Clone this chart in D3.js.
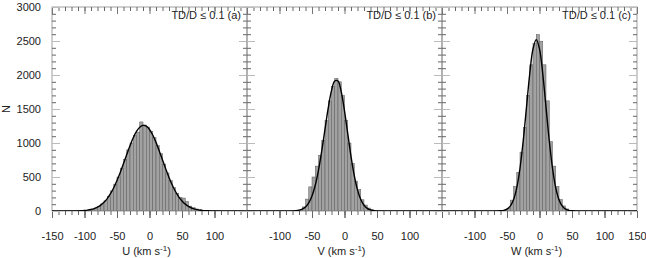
<!DOCTYPE html>
<html>
<head>
<meta charset="utf-8">
<script src="https://cdn.jsdelivr.net/npm/d3@7"></script>
<style>
  body { margin: 0; background: #fff; }
  svg { display: block; }
  text { font-family: "Liberation Sans", Arial, sans-serif; fill: #222; }
</style>
</head>
<body>
<svg id="chart" width="646" height="258"></svg>
<script>
// velocity grid (km/s), bin edges every 5
var edges = [-150,-145,-140,-135,-130,-125,-120,-115,-110,-105,-100,-95,-90,-85,-80,-75,-70,-65,-60,-55,
  -50,-45,-40,-35,-30,-25,-20,-15,-10,-5,0,5,10,15,20,25,30,35,40,45,
  50,55,60,65,70,75,80,85,90,95,100,105,110,115,120,125,130,135,140,145,150];

// histogram counts per 5 km/s bin (left edge -150 .. 145)
var histU = [0,0,0,0,1,1,2,3,4,6,10,17,28,45,70,105,150,216,296,395,
  500,630,760,900,1000,1110,1160,1310,1265,1235,1170,1080,960,845,690,560,445,345,260,200,
  190,140,72,48,30,18,11,6,4,2,1,1,0,0,0,0,0,0,0,0];
var histV = [0,0,0,0,0,0,0,0,0,0,0,0,0,1,2,5,14,60,175,355,
  500,660,820,1040,1330,1620,1830,1950,1900,1700,1330,1000,700,440,316,165,88,44,18,7,
  2,1,0,0,0,0,0,0,0,0,0,0,0,0,0,0,0,0,0,0];
var histW = [0,0,0,0,0,0,0,0,0,0,0,0,0,0,0,0,1,2,3,10,
  40,160,360,570,866,1230,1700,2150,2460,2594,2497,2150,1620,1020,660,360,170,75,30,10,
  4,1,0,0,0,0,0,0,0,0,0,0,0,0,0,0,0,0,0,0];

// fitted curves, read at each edge value
var fitU = [0,0,0,0,0,0,1,1,2,4,8,13,22,36,57,86,128,183,254,342,
  448,567,697,831,960,1076,1170,1232,1259,1248,1199,1117,1009,884,751,619,494,383,287,209,
  148,101,67,43,27,16,10,5,3,2,1,0,0,0,0,0,0,0,0,0,0];
var fitV = [0,0,0,0,0,0,0,0,0,0,0,0,0,0,2,5,12,27,59,119,
  220,378,601,884,1203,1517,1770,1912,1912,1752,1473,1137,804,522,311,169,85,39,16,6,
  2,0,0,0,0,0,0,0,0,0,0,0,0,0,0,0,0,0,0,0,0];
var fitW = [0,0,0,0,0,0,0,0,0,0,0,0,0,0,0,0,0,0,3,10,
  28,72,166,341,629,1036,1528,2018,2384,2520,2384,2018,1528,1036,629,341,166,72,28,10,
  3,0,0,0,0,0,0,0,0,0,0,0,0,0,0,0,0,0,0,0,0];

var yTicks = [0,500,1000,1500,2000,2500,3000];
var panelNames = ["U", "V", "W"];
var panelTags = ["(a)", "(b)", "(c)"];
var xTickSets = [[-150,-100,-50,0,50,100], [-100,-50,0,50,100], [-100,-50,0,50,100,150]];

var hists = [histU, histV, histW];
var fits = [fitU, fitV, fitW];

var svg = d3.select("#chart");
var left0 = 52, pw = 195, plotTop = 7, plotBottom = 211;

var y = d3.scaleLinear().domain([0, 3000]).range([plotBottom, plotTop]);

var minorX = d3.range(-150, 151, 10), majorX = d3.range(-150, 151, 50);
var minorY = d3.range(0, 3001, 100), majorY = d3.range(0, 3001, 500);
var axisCol = "#888", majorCol = "#bbb";

panelNames.forEach(function(name, i) {
  var x0 = left0 + i * pw;
  var x = d3.scaleLinear().domain([-150, 150]).range([x0, x0 + pw]);
  var g = svg.append("g");

  g.append("clipPath").attr("id", "clip" + i)
    .append("rect").attr("x", x0).attr("y", plotTop).attr("width", pw).attr("height", plotBottom - plotTop);

  // bars
  var bins = hists[i].map(function(v, j) { return {a: edges[j], b: edges[j + 1], v: v}; });
  g.append("g").attr("clip-path", "url(#clip" + i + ")")
    .selectAll("rect").data(bins.filter(function(d) { return d.v > 0; }))
    .enter().append("rect")
      .attr("x", function(d) { return x(d.a); })
      .attr("y", function(d) { return y(d.v); })
      .attr("width", function(d) { return x(d.b) - x(d.a); })
      .attr("height", function(d) { return y(0) - y(d.v); })
      .attr("fill", "#a2a2a2")
      .attr("stroke", "#5a5a5a")
      .attr("stroke-width", 0.5);

  // frame lines
  g.append("rect").attr("x", x0).attr("y", plotTop).attr("width", pw).attr("height", plotBottom - plotTop)
    .attr("fill", "none").attr("stroke", axisCol).attr("stroke-width", 0.8);

  // bottom ticks (outside)
  g.append("g").attr("transform", "translate(0," + plotBottom + ")")
    .call(d3.axisBottom(x).tickValues(minorX).tickSize(4).tickFormat(""))
    .call(function(a) { a.select(".domain").remove(); a.selectAll("line").attr("stroke", "#666"); });
  g.append("g").attr("transform", "translate(0," + plotBottom + ")")
    .call(d3.axisBottom(x).tickValues(xTickSets[i]).tickSize(7).tickPadding(14)
      .tickFormat(function(d) { return d; }))
    .call(function(a) {
      a.select(".domain").remove();
      a.selectAll("line").attr("stroke", "#666");
      a.selectAll("text").style("font-size", "11px").attr("fill", "#222")
        .style("font-family", "'Liberation Sans', Arial, sans-serif");
    });
  g.append("g").attr("transform", "translate(0," + plotBottom + ")")
    .call(d3.axisBottom(x).tickValues(majorX).tickSize(7).tickFormat(""))
    .call(function(a) { a.select(".domain").remove(); a.selectAll("line").attr("stroke", "#666"); });

  // top ticks (inside)
  g.append("g").attr("transform", "translate(0," + plotTop + ")")
    .call(d3.axisBottom(x).tickValues(minorX).tickSize(4).tickFormat(""))
    .call(function(a) { a.select(".domain").remove(); a.selectAll("line").attr("stroke", "#666"); });
  g.append("g").attr("transform", "translate(0," + plotTop + ")")
    .call(d3.axisBottom(x).tickValues(majorX).tickSize(7).tickFormat(""))
    .call(function(a) { a.select(".domain").remove(); a.selectAll("line").attr("stroke", "#777"); });

  // left / right ticks (inside)
  [[x0, d3.axisRight], [x0 + pw, d3.axisLeft]].forEach(function(s) {
    g.append("g").attr("transform", "translate(" + s[0] + ",0)")
      .call(s[1](y).tickValues(minorY).tickSize(4).tickFormat(""))
      .call(function(a) { a.select(".domain").remove(); a.selectAll("line").attr("stroke", "#666"); });
    g.append("g").attr("transform", "translate(" + s[0] + ",0)")
      .call(s[1](y).tickValues(majorY).tickSize(8).tickFormat(""))
      .call(function(a) { a.select(".domain").remove(); a.selectAll("line").attr("stroke", majorCol); });
  });

  // fitted curve
  var pts = fits[i].map(function(v, j) { return [edges[j], v]; });
  g.append("path").datum(pts)
    .attr("clip-path", "url(#clip" + i + ")")
    .attr("fill", "none").attr("stroke", "#000").attr("stroke-width", 1.4)
    .attr("d", d3.line()
      .x(function(d) { return x(d[0]); })
      .y(function(d) { return y(d[1]); })
      .curve(d3.curveCatmullRom.alpha(0.5)));

  // panel tag
  g.append("text").attr("x", x0 + pw - 6).attr("y", 19)
    .attr("text-anchor", "end").style("font-size", "11px")
    .text("TD/D \u2264 0.1 " + panelTags[i]);

  // x title
  var t = g.append("text").attr("x", x0 + pw / 2 - 3).attr("y", 255)
    .attr("text-anchor", "middle").style("font-size", "11px");
  t.append("tspan").text(name + " (km s");
  t.append("tspan").attr("dy", -4).style("font-size", "8px").text("-1");
  t.append("tspan").attr("dy", 4).text(")");
});

// y axis labels (left panel only)
svg.append("g").attr("transform", "translate(" + left0 + ",0)")
  .call(d3.axisLeft(y).tickValues(yTicks).tickSize(0).tickPadding(11).tickFormat(d3.format("d")))
  .call(function(a) {
    a.select(".domain").remove();
    a.selectAll("text").style("font-size", "11px").attr("fill", "#222")
      .style("font-family", "'Liberation Sans', Arial, sans-serif");
  });

svg.append("text").attr("transform", "translate(10,109) rotate(-90)")
  .attr("text-anchor", "middle").style("font-size", "11px").text("N");
</script>
</body>
</html>
